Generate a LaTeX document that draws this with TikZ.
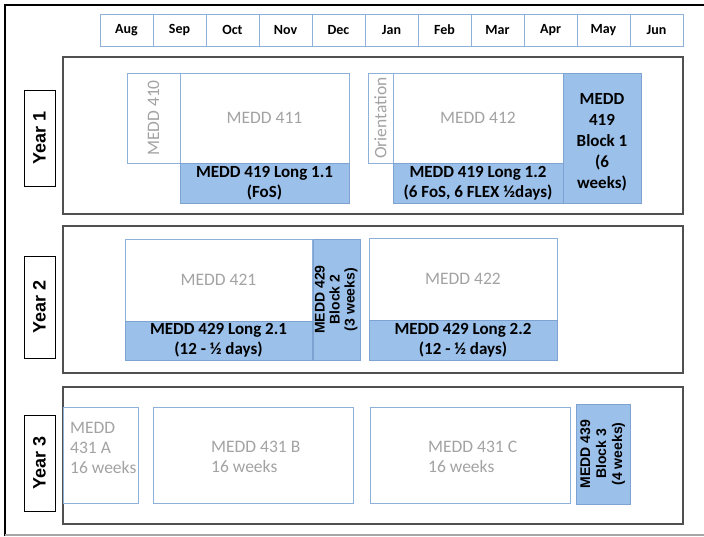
\documentclass[tikz,border=0pt]{standalone}
\usepackage{fontspec}
\usepackage{graphicx}
\setmainfont{Carlito}
\newfontfamily\arialf{Liberation Sans}
\definecolor{panelgray}{HTML}{505050}
\definecolor{boxblue}{HTML}{8EB1DC}
\definecolor{bborder}{HTML}{7EA3D2}
\definecolor{fillblue}{HTML}{9BC0EA}
\definecolor{txtgray}{HTML}{A3A3A3}
\begin{document}
\begin{tikzpicture}[x=1pt,y=-1pt,
  panel/.style={draw=panelgray, line width=1.1pt, fill=white, inner sep=0, outer sep=0},
  month/.style={draw=boxblue, line width=0.9pt, fill=white, inner sep=0, outer sep=0,
    minimum width=53pt, minimum height=32pt, font=\fontsize{14}{15}\selectfont\bfseries},
  wbox/.style={draw=boxblue, line width=0.9pt, fill=white, inner sep=0, outer sep=0,
    text=txtgray, font=\fontsize{17.5}{20}\selectfont, align=center},
  bbox/.style={draw=bborder, line width=0.9pt, fill=fillblue, inner sep=0, outer sep=0,
    font=\fontsize{17}{20}\selectfont\bfseries, align=center},
  gtext/.style={text=txtgray, font=\fontsize{17.5}{20}\selectfont, align=left, inner sep=0, anchor=west},
  btext/.style={font=\fontsize{17}{21}\selectfont\bfseries, align=center, inner sep=0},
  yearlbl/.style={draw=black, line width=0.9pt, fill=white, inner sep=0, outer sep=0,
    minimum width=31pt, minimum height=96pt}
]
\useasboundingbox (0,0) rectangle (704,536);
\fill[white] (0,0) rectangle (704,536);
% frame
\draw[black, line width=2pt] (5,536) -- (5,5) -- (704,5);
\draw[black!35, line width=1.5pt] (5,535) -- (704,535);
% months
\foreach \m [count=\i from 0] in {Aug,Sep,Oct,Nov,Dec,Jan,Feb,Mar,Apr,May,Jun}
  \node[month] (mon\i) at ({126.5+53*\i},30) {\m};
% panels
\node[panel, minimum width=620pt, minimum height=157pt] (p1) at (373,135.5) {};
\node[panel, minimum width=620pt, minimum height=147pt] (p2) at (373,299.5) {};
\node[panel, minimum width=620pt, minimum height=137pt] (p3) at (373,455.5) {};
% year labels
\node[yearlbl] (y1) at (39.5,138) {\rotatebox{90}{\arialf\fontsize{18}{20}\selectfont\bfseries Year 1}};
\node[yearlbl, minimum height=102pt] (y2) at (39.5,307) {\rotatebox{90}{\arialf\fontsize{18}{20}\selectfont\bfseries Year 2}};
\node[yearlbl] (y3) at (39.5,463) {\rotatebox{90}{\arialf\fontsize{18}{20}\selectfont\bfseries Year 3}};
% year 1
\node[wbox, minimum width=53pt, minimum height=90pt] (m410) at (153.5,118) {\rotatebox{90}{MEDD 410}};
\node[wbox, minimum width=169pt, minimum height=90pt] (m411) at (264.5,118) {MEDD 411};
\node[bbox, minimum width=169pt, minimum height=40pt] (l11) at (264.5,183) {MEDD 419 Long 1.1\\(FoS)};
\node[wbox, minimum width=25pt, minimum height=90pt] (ori) at (380.5,118) {\rotatebox{90}{\fontsize{17.5}{20}\selectfont Orientation}};
\node[wbox, minimum width=170pt, minimum height=90pt] (m412) at (478,118) {MEDD 412};
\node[bbox, minimum width=170pt, minimum height=40pt] (l12) at (478,183) {MEDD 419 Long 1.2\\(6 FoS, 6 FLEX ½days)};
\node[bbox, minimum width=78pt, minimum height=130pt] (b1) at (602,138) {};
\node[btext] (b1t) at (602,142) {MEDD\\419\\Block 1\\(6\\weeks)};
% year 2
\node[wbox, minimum width=187pt, minimum height=82pt] (m421) at (218.5,280) {MEDD 421};
\node[bbox, minimum width=187pt, minimum height=39pt] (l21) at (218.5,340.5) {MEDD 429 Long 2.1\\(12 - ½ days)};
\node[bbox, minimum width=47pt, minimum height=121pt] (b2) at (336.5,299.5)
  {\rotatebox{90}{\arialf\fontsize{14}{15}\selectfont\bfseries\begin{tabular}{@{}c@{}}MEDD 429\\Block 2\\(3 weeks)\end{tabular}}};
\node[wbox, minimum width=188pt, minimum height=82pt] (m422) at (463,279) {MEDD 422};
\node[bbox, minimum width=188pt, minimum height=40pt] (l22) at (463,340) {MEDD 429 Long 2.2\\(12 - ½ days)};
% year 3
\node[wbox, minimum width=75pt, minimum height=96pt] (a) at (100.5,455) {};
\node[gtext] (at) at (70,448) {MEDD\\431 A\\16 weeks};
\node[wbox, minimum width=200pt, minimum height=96pt] (b) at (253,455) {};
\node[gtext] (bt) at (211,457) {MEDD 431 B\\16 weeks};
\node[wbox, minimum width=200pt, minimum height=96pt] (c) at (470,455) {};
\node[gtext] (ct) at (428,457) {MEDD 431 C\\16 weeks};
\node[bbox, minimum width=54pt, minimum height=100pt] (b3) at (603,454)
  {\rotatebox{90}{\arialf\fontsize{14}{16}\selectfont\bfseries\begin{tabular}{@{}c@{}}MEDD 439\\Block 3\\(4 weeks)\end{tabular}}};
\end{tikzpicture}
\end{document}
